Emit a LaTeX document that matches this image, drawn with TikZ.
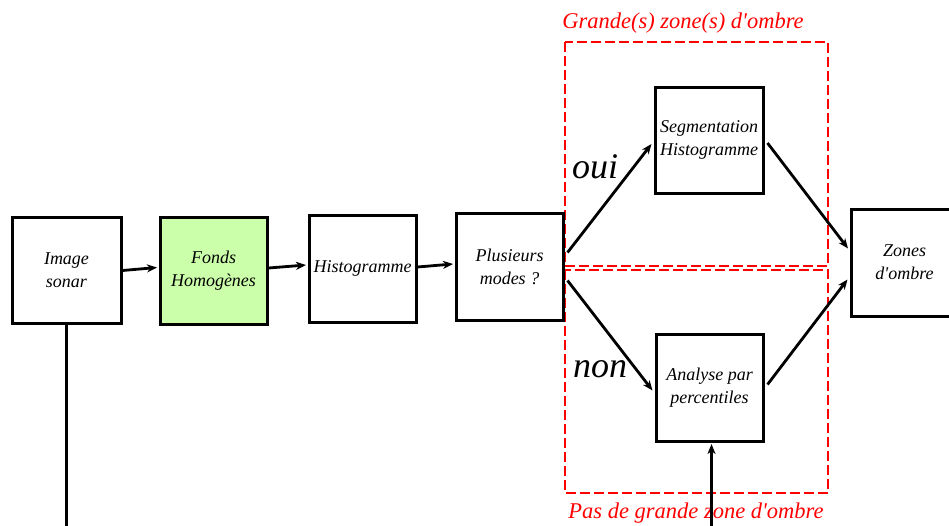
\documentclass[tikz,border=0pt]{standalone}
\usepackage{fontspec}
\setmainfont{Liberation Serif}[Ligatures=TeXOff]
\usetikzlibrary{arrows.meta,calc}
\definecolor{boxgreen}{RGB}{204,255,170}
\begin{document}
\begin{tikzpicture}[x=1pt,y=-1pt,
  box/.style={draw=black,line width=3pt,minimum width=107pt,minimum height=107pt,inner sep=0pt,align=center,font=\fontsize{18}{23}\selectfont\itshape},
  arr/.style={line width=2.8pt,-{Stealth[length=10pt,width=8pt,inset=3pt]}},
  stemline/.style={line width=3pt},
  zone/.style={draw=red,line width=2.8pt,dash pattern=on 10pt off 4pt},
  zonelabel/.style={text=red,font=\fontsize{22.5}{25}\selectfont\itshape,inner sep=0pt,anchor=base},
  answer/.style={font=\fontsize{36}{40}\selectfont\itshape,inner sep=0pt,anchor=base west}]
\useasboundingbox[fill=white] (0,0) rectangle (949,525);
% red zones
\draw[zone] (565,42) rectangle (828,266);
\draw[zone] (565,270) rectangle (828,493);
\node[zonelabel] (zl1) at (683,28) {Grande(s) zone(s) d'ombre};
\node[zonelabel] (zl2) at (696,518) {Pas de grande zone d'ombre};
% boxes
\node[box,minimum width=109pt,minimum height=106pt] (im) at (66.5,270) {Image\\sonar};
\node[box,fill=boxgreen] (fh) at (213.5,270.5) {Fonds\\Homogènes};
\node[box] (hi) at (362.5,268.5) {Histogramme};
\node[box] (pm) at (509.5,266.5) {Plusieurs\\modes ?};
\node[box,minimum width=108pt,minimum height=106pt] (seg) at (709,140) {Segmentation\\Histogramme};
\node[box] (an) at (709.5,387.5) {Analyse par\\percentiles};
\node[box] (zo) at (904.5,262.5) {Zones\\d'ombre};
% answers
\node[answer] (oui) at (572,178) {oui};
\node[answer] (non) at (573,377) {non};
% free ends
\coordinate (imdown) at (66.5,526);
\coordinate (anup) at (711.5,526);
% connectors
\draw[arr] ($(im.east)+(0,0.5)$) -- ($(fh.west)+(-1.5,-3)$);
\draw[arr] ($(fh.east)+(0,-2.5)$) -- ($(hi.west)+(-1.5,-3.5)$);
\draw[arr] ($(hi.east)+(0,-1.5)$) -- ($(pm.west)+(-1.5,-2.5)$);
\draw[arr] ($(pm.east)+(3,-14)$) -- ($(seg.west)+(-2,4)$);
\draw[arr] ($(pm.east)+(3,14)$) -- ($(an.west)+(-2,3)$);
\draw[arr] ($(seg.east)+(3,3)$) -- ($(zo.west)+(-1.5,-14)$);
\draw[arr] ($(an.east)+(3,-3)$) -- ($(zo.west)+(-2,17)$);
\draw[stemline] (im.south -| imdown) -- (imdown);
\draw[arr,line width=3pt] (anup) -- ($(an.south -| anup)+(0,1.5)$);
\end{tikzpicture}
\end{document}
